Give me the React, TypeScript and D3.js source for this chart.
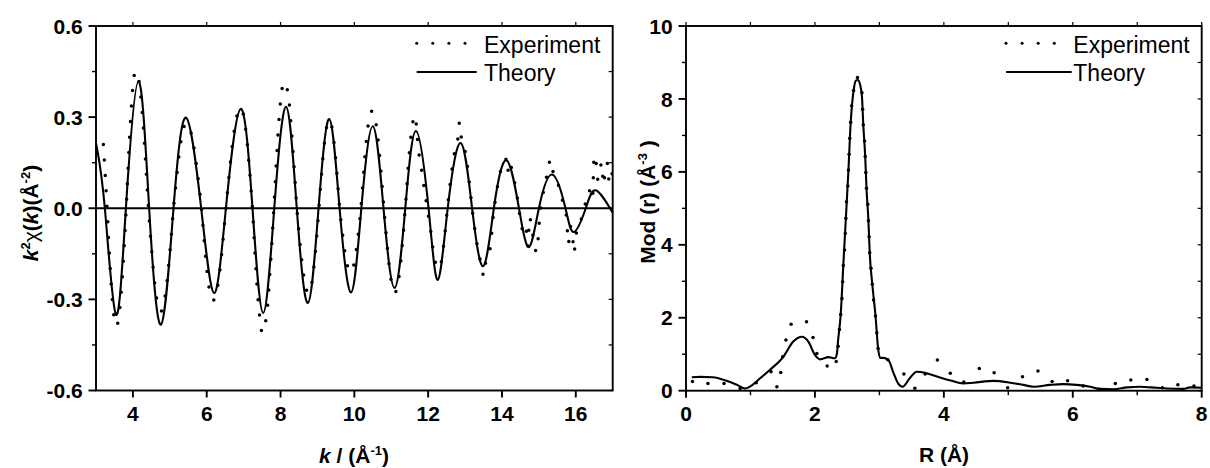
import React from 'react';
import * as d3 from 'd3';

// ---------- data ----------
const kTicks = [4, 6, 8, 10, 12, 14, 16];
const chiTicks = [-0.6, -0.3, 0, 0.3, 0.6];
const chiMinor = [-0.45, -0.15, 0.15, 0.45];
const rTicks = [0, 2, 4, 6, 8];
const rMinor = [1, 3, 5, 7];
const modTicks = [0, 2, 4, 6, 8, 10];
const modMinor = [1, 3, 5, 7, 9];

const kTheory = [3.0, 3.24, 3.54, 3.81, 4.15, 4.44, 4.76, 5.10, 5.44, 5.85, 6.20, 6.52, 6.92, 7.24, 7.53, 7.83, 8.15, 8.44, 8.74, 9.03, 9.32, 9.60, 9.91, 10.19, 10.50, 10.79, 11.09, 11.38, 11.67, 12.01, 12.26, 12.53, 12.88, 13.19, 13.49, 13.78, 14.12, 14.46, 14.73, 15.0, 15.36, 15.72, 15.95, 16.27, 16.54, 17.0];
const chiTheory = [0.215, 0, -0.35, 0, 0.418, 0, -0.383, 0, 0.298, 0, -0.279, 0, 0.327, 0, -0.345, 0, 0.334, 0, -0.312, 0, 0.294, 0, -0.277, 0, 0.270, 0, -0.262, 0, 0.254, 0, -0.236, 0, 0.215, 0, -0.191, 0, 0.158, 0, -0.128, 0, 0.111, 0, -0.078, 0, 0.059, -0.015];

const kExpStart = 3.2;
const kExpStep = 0.05;
const chiExp = [
  0.21, 0.11, 0.0, -0.12, -0.228, -0.314, -0.369, -0.388, -0.372, -0.324, -0.249, -0.154, -0.045,
  0.082, 0.21, 0.32, 0.40, 0.445, 0.45, 0.429, 0.384, 0.32, 0.238, 0.143, 0.042,
  -0.049, -0.126, -0.197, -0.257, -0.302, -0.33, -0.34, -0.332, -0.306, -0.266, -0.212, -0.147, -0.076,
  0.0, 0.062, 0.121, 0.175, 0.219, 0.252, 0.273, 0.28, 0.275, 0.26, 0.235, 0.202, 0.161, 0.114, 0.064, 0.011,
  -0.061, -0.134, -0.199, -0.25, -0.286, -0.303, -0.302, -0.285, -0.255, -0.211, -0.157, -0.094, -0.027,
  0.039, 0.102, 0.161, 0.214, 0.259, 0.294, 0.318, 0.329, 0.326, 0.305, 0.265, 0.21, 0.141, 0.064,
  -0.022, -0.132, -0.232, -0.313, -0.37, -0.41, -0.38, -0.37, -0.32, -0.235, -0.143, -0.042,
  0.069, 0.18, 0.277, 0.352, 0.399, 0.415, 0.404, 0.38, 0.33, 0.25, 0.167, 0.076,
  -0.014, -0.081, -0.144, -0.198, -0.24, -0.268, -0.28, -0.273, -0.245, -0.198, -0.135, -0.062,
  0.016, 0.096, 0.168, 0.227, 0.268, 0.288, 0.286, 0.261, 0.216, 0.154, 0.08,
  0.0, -0.054, -0.105, -0.148, -0.182, -0.203, -0.21, -0.202, -0.178, -0.14, -0.091, -0.035,
  0.034, 0.115, 0.189, 0.25, 0.294, 0.318, 0.32, 0.303, 0.268, 0.216, 0.152, 0.078,
  0.0, -0.072, -0.139, -0.196, -0.24, -0.268, -0.277, -0.266, -0.235, -0.184, -0.12, -0.046,
  0.035, 0.121, 0.196, 0.255, 0.292, 0.305, 0.24, 0.18, 0.145, 0.10, 0.06, 0.02,
  -0.02, -0.055, -0.106, -0.149, -0.18, -0.197, -0.198, -0.18, -0.141, -0.088, -0.026,
  0.032, 0.085, 0.133, 0.174, 0.205, 0.226, 0.283, 0.232, 0.217, 0.189, 0.149, 0.10, 0.046,
  -0.01, -0.057, -0.10, -0.138, -0.166, -0.184, -0.224, -0.183, -0.161, -0.15, -0.11, -0.04,
  0.01, 0.052, 0.087, 0.117, 0.14, 0.156, 0.164, 0.118, 0.154, 0.136, 0.111, 0.08, 0.045, 0.008,
  -0.04, -0.07, -0.09, -0.07, -0.125, -0.03, -0.06, -0.10, -0.136, -0.144, -0.06,
  0.0, 0.04, 0.07, 0.10, 0.115, 0.16, 0.155, 0.105, 0.097, 0.09, 0.065, 0.045, 0.02,
  -0.005, -0.03, -0.117, -0.06, -0.07, -0.147, -0.094, -0.065, -0.059, -0.035, -0.01,
  0.012, 0.03, 0.06, 0.051, 0.029, 0.174, 0.149, 0.094, 0.122, 0.149, 0.078, 0.122, 0.149, 0.094, 0.127, 0.10,
];

const rTheory = [0.09, 0.22, 0.42, 0.63, 0.79, 0.92, 0.99, 1.15, 1.30, 1.51, 1.66, 1.80, 1.90, 2.00, 2.08, 2.21, 2.31, 2.34, 2.36, 2.40, 2.44, 2.48, 2.52, 2.555, 2.60, 2.635, 2.665, 2.70, 2.73, 2.75, 2.78, 2.80, 2.83, 2.85, 2.89, 2.94, 2.98, 3.01, 3.06, 3.14, 3.22, 3.29, 3.36, 3.47, 3.58, 3.73, 3.94, 4.12, 4.30, 4.46, 4.77, 5.03, 5.23, 5.39, 5.65, 5.85, 6.06, 6.27, 6.42, 6.63, 6.84, 7.04, 7.30, 7.46, 7.71, 7.82, 8.00];
const modTheory = [0.37, 0.38, 0.37, 0.27, 0.16, 0.06, 0.11, 0.34, 0.57, 0.93, 1.34, 1.48, 1.34, 0.98, 0.86, 0.92, 0.89, 1.0, 1.39, 2.09, 3.43, 4.73, 6.05, 7.36, 8.23, 8.5, 8.52, 8.4, 8.06, 7.3, 6.42, 5.55, 4.66, 3.78, 2.92, 2.05, 1.16, 0.90, 0.90, 0.84, 0.48, 0.20, 0.11, 0.34, 0.52, 0.48, 0.36, 0.27, 0.20, 0.22, 0.27, 0.22, 0.16, 0.11, 0.16, 0.18, 0.16, 0.11, 0.05, 0.04, 0.09, 0.11, 0.08, 0.06, 0.05, 0.09, 0.08];

const rExp = [0.10, 0.34, 0.59, 0.84, 1.09, 1.32, 1.41, 1.47, 1.50, 1.55, 1.63, 1.87, 1.97, 2.03, 2.19, 2.33, 2.36, 2.38, 2.40, 2.42, 2.43, 2.44, 2.46, 2.47, 2.48, 2.49, 2.51, 2.52, 2.53, 2.54, 2.555, 2.57, 2.60, 2.66, 2.73, 2.74, 2.75, 2.77, 2.78, 2.79, 2.80, 2.82, 2.83, 2.84, 2.85, 2.87, 2.89, 2.91, 2.94, 2.96, 2.98, 3.13, 3.38, 3.55, 3.71, 3.90, 4.10, 4.31, 4.55, 4.78, 4.99, 5.22, 5.46, 5.68, 5.92, 6.16, 6.41, 6.66, 6.90, 7.15, 7.39, 7.63, 7.88];
const modExp = [0.25, 0.20, 0.20, 0.06, 0.22, 0.52, 0.11, 0.50, 0.93, 1.39, 1.82, 1.89, 1.46, 1.02, 0.68, 0.80, 1.22, 1.68, 2.09, 2.53, 2.99, 3.43, 3.86, 4.31, 4.73, 5.18, 5.61, 6.05, 6.48, 6.92, 7.36, 7.81, 8.23, 8.59, 8.17, 7.72, 7.29, 6.85, 6.42, 5.98, 5.55, 5.11, 4.66, 4.22, 3.78, 3.36, 2.92, 2.49, 2.05, 1.59, 1.16, 0.85, 0.46, 0.07, 0.46, 0.84, 0.48, 0.24, 0.61, 0.49, 0.08, 0.38, 0.54, 0.25, 0.27, 0.13, 0.04, 0.20, 0.29, 0.31, 0.08, 0.16, 0.13];

// ---------- layout ----------
const W = 1210;
const H = 468;
const FONT = '"Liberation Sans", Arial, Helvetica, sans-serif';
const L = { x0: 96, x1: 612.7, y0: 26, y1: 390.5 };
const R = { x0: 686, x1: 1201.7, y0: 26, y1: 390.7 };
const AX = 1.9;

export default function App() {
  const xk = d3.scaleLinear().domain([3, 17]).range([L.x0, L.x1]);
  const yc = d3.scaleLinear().domain([-0.6, 0.6]).range([L.y1, L.y0]);
  const xr = d3.scaleLinear().domain([0, 8]).range([R.x0, R.x1]);
  const ym = d3.scaleLinear().domain([0, 10]).range([R.y1, R.y0]);

  const theoryL = d3
    .line<number>()
    .x((_, i) => xk(kTheory[i]))
    .y((d) => yc(d))
    .curve(d3.curveNatural)(chiTheory) as string;

  const expL = d3
    .line<number>()
    .x((_, i) => xk(kExpStart + i * kExpStep))
    .y((d) => yc(d))
    .curve(d3.curveMonotoneX)(chiExp) as string;

  const theoryR = d3
    .line<number>()
    .x((_, i) => xr(rTheory[i]))
    .y((d) => ym(d))
    .curve(d3.curveMonotoneX)(modTheory) as string;

  const tickFont = { fontFamily: FONT, fontSize: 21, fontWeight: 'bold' as const };

  return (
    <svg
      width={W}
      height={H}
      style={{ position: 'absolute', left: 0, top: 0, background: '#fff' }}
      xmlns="http://www.w3.org/2000/svg"
    >
      <defs>
        <clipPath id="clipL">
          <rect x={L.x0} y={L.y0} width={L.x1 - L.x0} height={L.y1 - L.y0} />
        </clipPath>
        <clipPath id="clipR">
          <rect x={R.x0} y={R.y0 - 2} width={R.x1 - R.x0} height={R.y1 - R.y0 + 2} />
        </clipPath>
      </defs>
      <rect x={0} y={0} width={W} height={H} fill="#fff" />

      {/* ================= LEFT PANEL ================= */}
      <g clipPath="url(#clipL)">
        <line x1={L.x0} x2={L.x1} y1={yc(0)} y2={yc(0)} stroke="#000" strokeWidth={1.8} />
        <path d={expL} fill="none" stroke="#000" strokeWidth={3.5} strokeLinecap="round" strokeDasharray="0 15.5" />
        <path d={theoryL} fill="none" stroke="#000" strokeWidth={2.1} />
      </g>
      <rect x={L.x0} y={L.y0} width={L.x1 - L.x0} height={L.y1 - L.y0} fill="none" stroke="#000" strokeWidth={AX} />
      {kTicks.map((t) => (
        <g key={'kt' + t}>
          <line x1={xk(t)} x2={xk(t)} y1={L.y1} y2={L.y1 + 7} stroke="#000" strokeWidth={AX} />
          <line x1={xk(t)} x2={xk(t)} y1={L.y0} y2={L.y0 - 4} stroke="#000" strokeWidth={1.2} />
          <text x={xk(t)} y={420.7} textAnchor="middle" {...tickFont}>{t}</text>
        </g>
      ))}
      {chiTicks.map((t) => (
        <g key={'ct' + t}>
          <line x1={L.x0 - 7.5} x2={L.x0} y1={yc(t)} y2={yc(t)} stroke="#000" strokeWidth={AX} />
          <line x1={L.x1 - 4} x2={L.x1} y1={yc(t)} y2={yc(t)} stroke="#000" strokeWidth={1.2} />
          <text x={L.x0 - 13.3} y={yc(t) + 7.6} textAnchor="end" {...tickFont}>{t.toFixed(1)}</text>
        </g>
      ))}
      {chiMinor.map((t) => (
        <g key={'cm' + t}>
          <line x1={L.x0 - 4} x2={L.x0} y1={yc(t)} y2={yc(t)} stroke="#000" strokeWidth={1.4} />
          <line x1={L.x1 - 4} x2={L.x1} y1={yc(t)} y2={yc(t)} stroke="#000" strokeWidth={1.2} />
        </g>
      ))}
      <text x={354} y={463} textAnchor="middle" fontFamily={FONT} fontSize={21} fontWeight="bold">
        <tspan fontStyle="italic">k</tspan>
        <tspan> / (Å</tspan>
        <tspan dy={-8} fontSize={13}>-1</tspan>
        <tspan dy={8}>)</tspan>
      </text>
      <text
        transform="translate(38,213) rotate(-90)"
        textAnchor="middle"
        fontFamily={FONT}
        fontSize={21}
        fontWeight="bold"
      >
        <tspan fontStyle="italic">k</tspan>
        <tspan dy={-8} fontSize={13}>2</tspan>
        <tspan dy={8} fontWeight="normal">χ</tspan>
        <tspan>(</tspan>
        <tspan fontStyle="italic">k</tspan>
        <tspan>)(Å</tspan>
        <tspan dy={-8} fontSize={13}>-2</tspan>
        <tspan dy={8}>)</tspan>
      </text>
      <g>
        {[0, 1, 2, 3].map((i) => (
          <circle key={'ld' + i} cx={416.7 + i * 16.1} cy={43.3} r={1.5} fill="#000" />
        ))}
        <text x={484} y={52.7} fontFamily={FONT} fontSize={23}>Experiment</text>
        <line x1={416.7} x2={476.7} y1={72} y2={72} stroke="#000" strokeWidth={2} />
        <text x={484} y={81} fontFamily={FONT} fontSize={23}>Theory</text>
      </g>

      {/* ================= RIGHT PANEL ================= */}
      <g clipPath="url(#clipR)">
        {rExp.map((r, i) => (
          <circle key={'re' + i} cx={xr(r)} cy={ym(modExp[i])} r={1.75} fill="#000" />
        ))}
        <path d={theoryR} fill="none" stroke="#000" strokeWidth={2.1} />
      </g>
      <rect x={R.x0} y={R.y0} width={R.x1 - R.x0} height={R.y1 - R.y0} fill="none" stroke="#000" strokeWidth={AX} />
      {rTicks.map((t) => (
        <g key={'rt' + t}>
          <line x1={xr(t)} x2={xr(t)} y1={R.y1} y2={R.y1 + 7} stroke="#000" strokeWidth={AX} />
          <line x1={xr(t)} x2={xr(t)} y1={R.y0} y2={R.y0 - 4} stroke="#000" strokeWidth={1.2} />
          <text x={xr(t)} y={420.7} textAnchor="middle" {...tickFont}>{t}</text>
        </g>
      ))}
      {rMinor.map((t) => (
        <g key={'rm' + t}>
          <line x1={xr(t)} x2={xr(t)} y1={R.y1} y2={R.y1 + 4.5} stroke="#000" strokeWidth={1.4} />
          <line x1={xr(t)} x2={xr(t)} y1={R.y0} y2={R.y0 - 4} stroke="#000" strokeWidth={1.2} />
        </g>
      ))}
      {modTicks.map((t) => (
        <g key={'mt' + t}>
          <line x1={R.x0 - 7.5} x2={R.x0} y1={ym(t)} y2={ym(t)} stroke="#000" strokeWidth={AX} />
          <line x1={R.x1 - 4} x2={R.x1} y1={ym(t)} y2={ym(t)} stroke="#000" strokeWidth={1.2} />
          <text x={R.x0 - 13.3} y={ym(t) + 7.6} textAnchor="end" {...tickFont}>{t}</text>
        </g>
      ))}
      {modMinor.map((t) => (
        <g key={'mm' + t}>
          <line x1={R.x0 - 4} x2={R.x0} y1={ym(t)} y2={ym(t)} stroke="#000" strokeWidth={1.4} />
          <line x1={R.x1 - 4} x2={R.x1} y1={ym(t)} y2={ym(t)} stroke="#000" strokeWidth={1.2} />
        </g>
      ))}
      <text x={944} y={462} textAnchor="middle" fontFamily={FONT} fontSize={21} fontWeight="bold">
        R (Å)
      </text>
      <text
        transform="translate(655,202) rotate(-90)"
        textAnchor="middle"
        fontFamily={FONT}
        fontSize={21}
        fontWeight="bold"
      >
        <tspan>Mod (r) (Å</tspan>
        <tspan dy={-8} fontSize={13}>-3</tspan>
        <tspan dy={8}> )</tspan>
      </text>
      <g>
        {[0, 1, 2, 3].map((i) => (
          <circle key={'rd' + i} cx={1006 + i * 16.1} cy={43.3} r={1.5} fill="#000" />
        ))}
        <text x={1073.3} y={52.7} fontFamily={FONT} fontSize={23}>Experiment</text>
        <line x1={1006} x2={1071.7} y1={72} y2={72} stroke="#000" strokeWidth={2} />
        <text x={1073.3} y={81} fontFamily={FONT} fontSize={23}>Theory</text>
      </g>
    </svg>
  );
}
